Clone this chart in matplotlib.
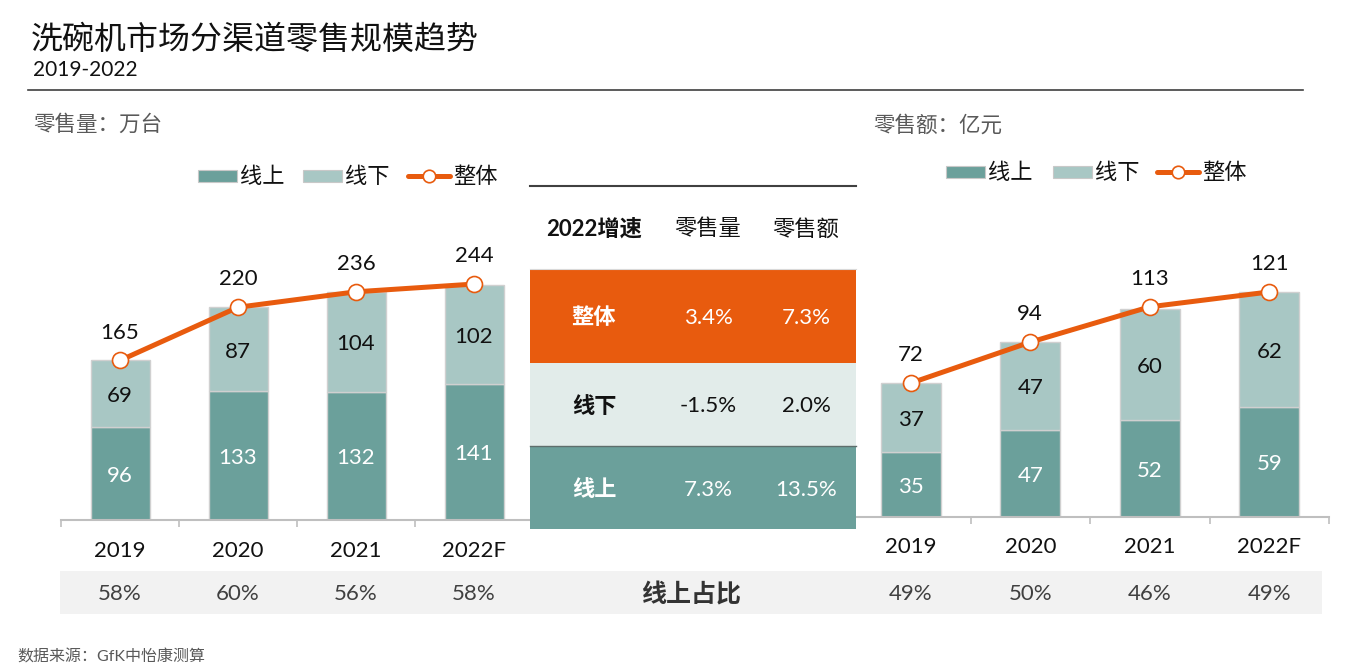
import matplotlib
matplotlib.use("Agg")
import matplotlib.pyplot as plt
from matplotlib.patches import Rectangle
from matplotlib.lines import Line2D
import matplotlib.transforms as mtransforms

plt.rcParams['font.family'] = ['Lato', 'Noto Sans CJK SC', 'DejaVu Sans']

# ---------------- data ----------------
years = ["2019", "2020", "2021", "2022F"]
vol_online = [96, 133, 132, 141]
vol_offline = [69, 87, 104, 102]
vol_total = [165, 220, 236, 244]
val_online = [35, 47, 52, 59]
val_offline = [37, 47, 60, 62]
val_total = [72, 94, 113, 121]
vol_online_share = ["58%", "60%", "56%", "58%"]
val_online_share = ["49%", "50%", "46%", "49%"]

table_header = ["2022增速", "零售量", "零售额"]
table_rows = ["整体", "线下", "线上"]
growth_volume = ["3.4%", "-1.5%", "7.3%"]
growth_value = ["7.3%", "2.0%", "13.5%"]

# ---------------- style ----------------
W, H = 1357, 672
TEAL = "#6BA09B"
LIGHT = "#A8C7C4"
ORANGE = "#E85B0E"
ROWLIGHT = "#E2ECEA"
BAND = "#F2F2F2"
DARK = "#111111"
GRAY = "#595959"
FS = 16

fig = plt.figure(figsize=(W / 100, H / 100), dpi=100)


def fx(x):
    return x / W


def fy(y):
    return 1 - y / H


def rect_px(x0, y0, x1, y1, **kw):
    r = Rectangle((fx(x0), fy(y1)), fx(x1) - fx(x0), fy(y0) - fy(y1),
                  transform=fig.transFigure, **kw)
    fig.add_artist(r)
    return r


def line_px(x0, y0, x1, y1, **kw):
    l = Line2D([fx(x0), fx(x1)], [fy(y0), fy(y1)], transform=fig.transFigure, **kw)
    fig.add_artist(l)
    return l


# title
fig.text(fx(31), fy(40), "洗碗机市场分渠道零售规模趋势", fontsize=23, color=DARK,
         va="center", ha="left")
fig.text(fx(33), fy(70), "2019-2022", fontsize=15, color=DARK, va="center", ha="left")
line_px(28, 90, 1303, 90, color="#404040", lw=1.2)

fig.text(fx(33), fy(125), "零售量：万台", fontsize=15.5, color=GRAY, va="center")
fig.text(fx(873), fy(125), "零售额：亿元", fontsize=15.5, color=GRAY, va="center")

# bottom band
rect_px(60, 571, 1322, 614, facecolor=BAND, edgecolor="none", zorder=0)
fig.text(fx(691), fy(594), "线上占比", fontsize=18, fontweight="bold", color="#333333",
         ha="center", va="center")

# footer
fig.text(fx(17), fy(657), "数据来源：GfK中怡康测算", fontsize=11.5, color=GRAY,
         va="center", ha="left")


def legend(x_on, x_off, x_line, y):
    rect_px(x_on, y - 6, x_on + 39, y + 6, facecolor=TEAL, edgecolor="#C8C8C8", lw=0.8)
    fig.text(fx(x_on + 42), fy(y + 1), "线上", fontsize=16, color=DARK, va="center")
    rect_px(x_off, y - 6, x_off + 39, y + 6, facecolor=LIGHT, edgecolor="#C8C8C8", lw=0.8)
    fig.text(fx(x_off + 42), fy(y + 1), "线下", fontsize=16, color=DARK, va="center")
    line_px(x_line, y, x_line + 42, y, color=ORANGE, lw=3.6, solid_capstyle="round")
    fig.add_artist(Line2D([fx(x_line + 21)], [fy(y)], transform=fig.transFigure,
                          marker="o", markersize=9, markerfacecolor="white",
                          markeredgecolor=ORANGE, markeredgewidth=1.2, linestyle="none"))
    fig.text(fx(x_line + 45), fy(y + 1), "整体", fontsize=16, color=DARK, va="center")


legend(198, 303, 408, 176)
legend(946, 1053, 1157, 172)


def draw_panel(x0, x1, base_y, top_y, ppu, online, offline, total, shares, label_y):
    ax = fig.add_axes([fx(x0), fy(base_y), fx(x1) - fx(x0), (base_y - top_y) / H])
    ymax = (base_y - top_y) / ppu
    xs = list(range(len(years)))
    ax.bar(xs, online, width=0.5, color=TEAL, edgecolor="#D0D0D0", linewidth=1, zorder=2)
    ax.bar(xs, offline, bottom=online, width=0.5, color=LIGHT, edgecolor="#D0D0D0",
           linewidth=1, zorder=2)
    ax.plot(xs, total, color=ORANGE, lw=3.6, marker="o", markersize=11.5,
            markerfacecolor="white", markeredgecolor=ORANGE, markeredgewidth=1.2, zorder=4)
    dy = -1.6  # points, to visually centre Lato digits
    for i in xs:
        ax.annotate(str(online[i]), (i, online[i] / 2), xytext=(0, dy),
                    textcoords="offset points", ha="center", va="center",
                    fontsize=FS, color="white", zorder=5)
        ax.annotate(str(offline[i]), (i, online[i] + offline[i] / 2), xytext=(0, dy),
                    textcoords="offset points", ha="center", va="center",
                    fontsize=FS, color=DARK, zorder=5)
        ax.annotate(str(total[i]), (i, total[i]), xytext=(0, 20), textcoords="offset points",
                    ha="center", va="center", fontsize=FS, color=DARK, zorder=5)
    ax.set_xlim(-0.5, len(years) - 0.5)
    ax.set_ylim(0, ymax)
    for s in ["top", "left", "right"]:
        ax.spines[s].set_visible(False)
    ax.spines["bottom"].set_color("#BFBFBF")
    ax.spines["bottom"].set_linewidth(1.5)
    ax.set_yticks([])
    ax.set_xticks(xs)
    ax.set_xticklabels(years, fontsize=FS, color=DARK)
    ax.tick_params(axis="x", which="major", length=0, pad=(label_y - base_y) / 1.389 - 6.5)
    ax.set_xticks([i - 0.5 for i in range(len(years) + 1)], minor=True)
    ax.tick_params(axis="x", which="minor", length=5, width=1.2, color="#BFBFBF")
    ax.patch.set_alpha(0)
    trans = mtransforms.blended_transform_factory(ax.transData, fig.transFigure)
    for i in xs:
        ax.text(i, fy(594), shares[i], transform=trans, ha="center", va="center",
                fontsize=16, color="#404040", clip_on=False)
    return ax


draw_panel(61, 533, 520, 150, 0.967, vol_online, vol_offline, vol_total,
           vol_online_share, 550)
draw_panel(851, 1329, 517, 150, 1.86, val_online, val_offline, val_total,
           val_online_share, 546)

# ---------------- table ----------------
tx0, tx1 = 530, 856
col_x = [594, 708, 806]
line_px(tx0, 186, tx1, 186, color="#404040", lw=1.5, zorder=10)
for j, h in enumerate(table_header):
    fig.text(fx(col_x[j]), fy(229), h, fontsize=FS, ha="center", va="center",
             color=DARK, fontweight="bold" if j == 0 else "normal", zorder=10)

row_bounds = [(269, 363), (363, 446), (446, 529)]
row_fc = [ORANGE, ROWLIGHT, TEAL]
row_tc = ["white", DARK, "white"]
for k, (y0, y1) in enumerate(row_bounds):
    rect_px(tx0, y0, tx1, y1, facecolor=row_fc[k], edgecolor="none", zorder=9)
    yc = (y0 + y1) / 2 + 2
    fig.text(fx(col_x[0]), fy(yc), table_rows[k], fontsize=FS, fontweight="bold",
             color=row_tc[k], ha="center", va="center", zorder=10)
    fig.text(fx(col_x[1]), fy(yc), growth_volume[k], fontsize=FS,
             color=row_tc[k], ha="center", va="center", zorder=10)
    fig.text(fx(col_x[2]), fy(yc), growth_value[k], fontsize=FS,
             color=row_tc[k], ha="center", va="center", zorder=10)
line_px(tx0, 269, tx1, 269, color="#D9D9D9", lw=0.8, zorder=10)
line_px(tx0, 446, tx1, 446, color="#5E6E6C", lw=1.0, zorder=10)

fig.savefig("out.png", dpi=100)
